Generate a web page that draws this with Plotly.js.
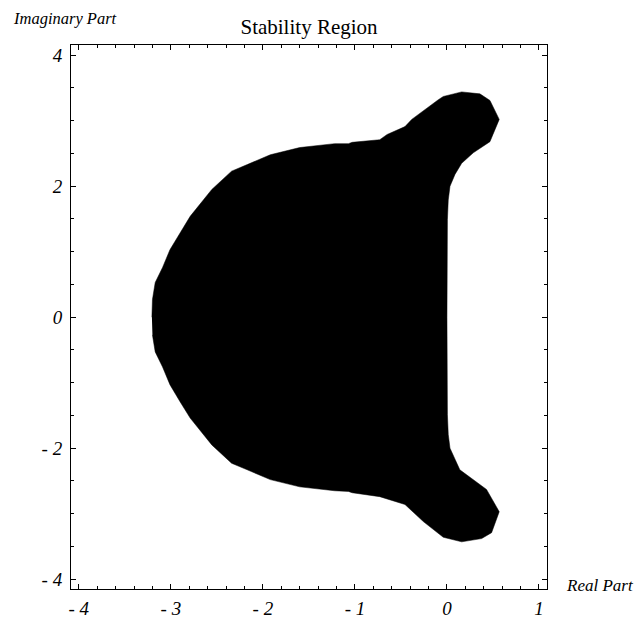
<!DOCTYPE html>
<html>
<head>
<meta charset="utf-8">
<script src="https://cdn.plot.ly/plotly-3.0.1.min.js"></script>
<style>html,body{margin:0;padding:0;background:#fff;}#chart{width:644px;height:619px;}</style>
</head>
<body>
<div id="chart"></div>
<script>
// Boundary of the stability region (real part, imaginary part)
const realPart = [
  -3.206, -3.20, -3.17, -3.09, -3.01, -2.90, -2.79, -2.555, -2.34, -2.17, -1.92, -1.60, -1.22, -1.07, -1.03, -0.73, -0.65, -0.456, -0.383, -0.094, -0.04, 0.16, 0.358, 0.467, 0.568, 0.467, 0.286, 0.16, 0.087, 0.033, 0.014, 0.005, 0.0,
  0.005, 0.014, 0.033, 0.087, 0.14, 0.43, 0.568, 0.485, 0.377, 0.16, -0.04, -0.257, -0.456, -0.73, -1.03, -1.07, -1.22, -1.60, -1.92, -2.17, -2.34, -2.555, -2.79, -2.90, -3.01, -3.09, -3.17, -3.20
];
const imagPart = [
  0.00, 0.27, 0.53, 0.76, 1.03, 1.29, 1.54, 1.95, 2.23, 2.33, 2.48, 2.59, 2.65, 2.65, 2.67, 2.71, 2.79, 2.91, 3.02, 3.32, 3.37, 3.44, 3.41, 3.31, 3.02, 2.68, 2.51, 2.35, 2.18, 2.00, 1.79, 1.49, 0.00,
  -1.49, -1.79, -2.00, -2.18, -2.33, -2.63, -2.97, -3.29, -3.38, -3.43, -3.36, -3.12, -2.86, -2.74, -2.68, -2.66, -2.65, -2.59, -2.48, -2.33, -2.23, -1.95, -1.54, -1.29, -1.03, -0.76, -0.53, -0.27
];

const xTickVals = [-4, -3, -2, -1, 0, 1];
const xTickText = ["- 4", "- 3", "- 2", "- 1", "0", "1"];
const yTickVals = [-4, -2, 0, 2, 4];
const yTickText = ["- 4", "- 2", "0", "2", "4"];

const serif = "Liberation Serif, Times New Roman, serif";
const tickFont = {family: serif, size: 19, color: "#000", style: "italic"};

const trace = {
  type: "scatter",
  mode: "lines",
  x: realPart,
  y: imagPart,
  fill: "toself",
  fillcolor: "#000",
  line: {color: "#000", width: 0.5},
  hoverinfo: "skip",
  showlegend: false
};

const axisCommon = {
  showgrid: false,
  zeroline: false,
  showline: true,
  linecolor: "#000",
  linewidth: 1,
  mirror: "ticks",
  ticks: "inside",
  ticklen: 5,
  tickwidth: 1,
  tickcolor: "#000",
  tickfont: tickFont,
  tickmode: "array"
};

const layout = {
  width: 644,
  height: 619,
  margin: {l: 71, r: 97, t: 45, b: 30, pad: 0},
  paper_bgcolor: "#fff",
  plot_bgcolor: "#fff",
  title: {
    text: "Stability Region",
    font: {family: serif, size: 21, color: "#000"},
    x: 0.5, xref: "paper",
    y: 1 - 27 / 619, yref: "container", yanchor: "middle"
  },
  xaxis: Object.assign({}, axisCommon, {
    range: [-4.085, 1.087],
    tickvals: xTickVals,
    ticktext: xTickText,
    ticklabelstandoff: 2,
    minor: {ticks: "inside", ticklen: 3, tickcolor: "#000", dtick: 0.2, tick0: 0, showgrid: false}
  }),
  yaxis: Object.assign({}, axisCommon, {
    range: [-4.15, 4.156],
    tickvals: yTickVals,
    ticktext: yTickText,
    ticklabelstandoff: 4,
    minor: {ticks: "inside", ticklen: 3, tickcolor: "#000", dtick: 0.5, tick0: 0, showgrid: false}
  }),
  annotations: [
    {text: "Imaginary Part", xref: "paper", yref: "paper", x: -0.126, y: 1.048,
     xanchor: "left", yanchor: "middle", showarrow: false,
     font: {family: serif, size: 16.5, color: "#000", style: "italic"}},
    {text: "Real Part", xref: "paper", yref: "paper", x: 1.036, y: 0.007,
     xanchor: "left", yanchor: "middle", showarrow: false,
     font: {family: serif, size: 17, color: "#000", style: "italic"}}
  ]
};

Plotly.newPlot("chart", [trace], layout, {staticPlot: true, displayModeBar: false});
</script>
</body>
</html>
